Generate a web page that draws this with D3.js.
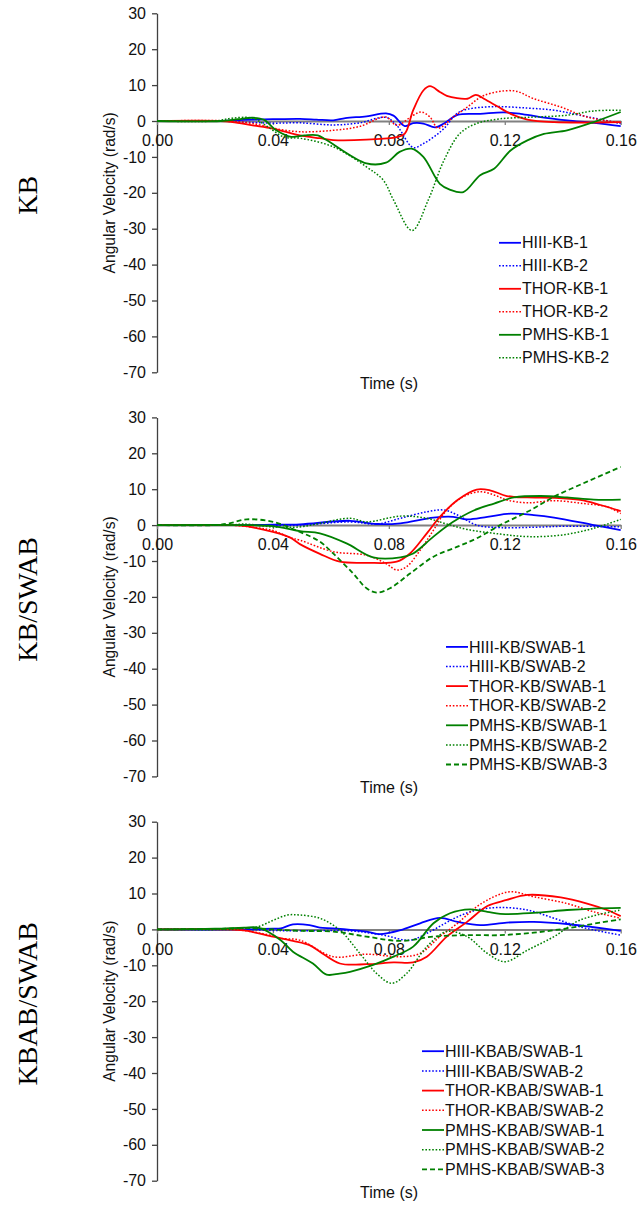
<!DOCTYPE html>
<meta charset="utf-8">
<script src="https://d3js.org/d3.v7.min.js"></script>
<style>
  body { margin: 0; background: #fff; }
</style>
<div id="chart"></div>
<script>

// ticks shared by all three panels
var timeTicks = [0, 0.04, 0.08, 0.12, 0.16];
var valueTicks = [-70, -60, -50, -40, -30, -20, -10, 0, 10, 20, 30];

// ---- KB panel: [time (s), angular velocity (rad/s)]
var hiiiKb1 = [[0,0],[0.02,0],[0.03,0.3],[0.04,0.5],[0.0493,0.6],[0.055,0.4],[0.0608,0.2],[0.065,0.8],[0.0723,1.3],[0.079,2.1],[0.0816,1.5],[0.0855,-1.4],[0.0884,-0.6],[0.0919,-0.7],[0.096,-1.8],[0.099,-0.7],[0.1037,1.7],[0.1115,2.0],[0.1196,2.4],[0.1254,2.0],[0.1323,1.1],[0.1415,0.2],[0.1507,-0.5],[0.16,-1.4]];
var hiiiKb2 = [[0,0],[0.02,0],[0.03,-0.3],[0.04,-0.6],[0.0493,-0.5],[0.0608,-1.1],[0.07,-0.5],[0.079,1.0],[0.0827,-1.2],[0.0884,-7.4],[0.0919,-6.3],[0.0954,-4.5],[0.099,-2.1],[0.1037,2.2],[0.1071,3.3],[0.1163,4.0],[0.1278,3.6],[0.137,3.0],[0.146,1.6],[0.16,-0.7]];
var thorKb1 = [[0,0],[0.022,0],[0.026,-0.3],[0.033,-1.2],[0.04,-2.1],[0.0493,-4.0],[0.0562,-4.8],[0.0608,-5.3],[0.0723,-5.2],[0.0827,-4.5],[0.0855,-3.5],[0.0884,3.0],[0.0919,8.5],[0.0942,9.7],[0.0976,8.1],[0.1,7.0],[0.1071,6.2],[0.11,7.3],[0.1128,6.2],[0.1174,4.1],[0.122,2.0],[0.1278,0.4],[0.137,-0.3],[0.16,-0.3]];
var thorKb2 = [[0,0],[0.025,0],[0.035,-1.0],[0.04,-2.0],[0.0493,-3.0],[0.0608,-2.6],[0.07,-1.5],[0.079,1.1],[0.0827,-1.2],[0.0884,1.6],[0.0913,2.5],[0.0942,1.1],[0.097,-2.0],[0.1022,1.1],[0.1071,3.9],[0.1128,7.1],[0.1232,8.4],[0.13,6.2],[0.1393,3.9],[0.1484,1.1],[0.16,-0.5]];
var pmhsKb1 = [[0,0],[0.022,0],[0.028,0.5],[0.033,0.9],[0.037,0.3],[0.041,-2.5],[0.0463,-4.4],[0.0509,-4.0],[0.0555,-4.0],[0.0585,-5.3],[0.0723,-11.8],[0.079,-11.6],[0.0837,-8.6],[0.0878,-7.7],[0.0919,-10.0],[0.0976,-17.5],[0.101,-19.1],[0.1057,-19.8],[0.1115,-15.1],[0.1163,-13.3],[0.122,-8.2],[0.1278,-5.4],[0.1335,-3.6],[0.1415,-2.6],[0.1507,-0.3],[0.16,2.5]];
var pmhsKb2 = [[0,0],[0.02,0],[0.026,0.8],[0.033,0.8],[0.038,-1.5],[0.044,-4.5],[0.0493,-4.8],[0.0608,-7.2],[0.0723,-12.8],[0.0781,-16.5],[0.0816,-22],[0.088,-30.5],[0.0936,-22],[0.099,-11],[0.1045,-3.5],[0.1103,-0.7],[0.1184,0.6],[0.13,1.1],[0.1415,1.6],[0.1507,2.8],[0.16,3.0]];

// ---- KB/SWAB panel
var hiiiKbSwab1 = [[0,0],[0.03,0],[0.04,0.1],[0.0493,0.2],[0.0666,1.2],[0.0758,0.3],[0.084,0.5],[0.0954,2.1],[0.1022,2.3],[0.107,1.6],[0.114,2.3],[0.122,3.2],[0.13,2.8],[0.137,2.1],[0.1507,0],[0.16,-1.4]];
var hiiiKbSwab2 = [[0,0],[0.03,0],[0.0493,0],[0.0666,0.9],[0.0758,0.3],[0.084,1.9],[0.0931,3.7],[0.099,4.2],[0.1037,2.8],[0.1103,0],[0.1184,-0.7],[0.13,-0.6],[0.1415,-0.3],[0.16,-0.5]];
var thorKbSwab1 = [[0,0],[0.025,0],[0.0286,-0.1],[0.04,-1.9],[0.046,-3.5],[0.0493,-5.3],[0.0562,-8.0],[0.0631,-10.2],[0.0723,-10.5],[0.0827,-10.2],[0.0873,-7.9],[0.0931,-2.3],[0.0976,2.3],[0.1037,7.0],[0.1103,9.9],[0.1149,9.7],[0.1207,8.1],[0.1278,7.7],[0.137,7.6],[0.146,7.0],[0.153,5.6],[0.16,3.9]];
var thorKbSwab2 = [[0,0],[0.025,0],[0.035,-0.8],[0.04,-1.5],[0.046,-3.5],[0.0493,-4.2],[0.0608,-7.4],[0.0723,-8.4],[0.079,-10.7],[0.0827,-12.5],[0.0861,-11.6],[0.0908,-7.0],[0.0954,-1.4],[0.1,4.2],[0.1057,7.9],[0.1115,9.3],[0.1163,8.4],[0.1207,7.0],[0.1278,6.2],[0.137,6.8],[0.1472,6.0],[0.1553,5.1],[0.16,3.2]];
var pmhsKbSwab1 = [[0,0],[0.03,0],[0.04,-0.3],[0.0493,-1.7],[0.0562,-2.3],[0.0654,-5.1],[0.0746,-9.0],[0.084,-9.0],[0.0884,-7.9],[0.0954,-3.2],[0.1022,0.9],[0.1091,4.0],[0.1163,6.0],[0.1232,7.7],[0.1323,8.1],[0.1415,7.7],[0.1507,7.1],[0.16,7.1]];
var pmhsKbSwab2 = [[0,0],[0.025,0],[0.03,0.3],[0.04,-0.5],[0.0493,-0.5],[0.0562,0.5],[0.0666,1.9],[0.0723,0.9],[0.084,2.5],[0.0931,1.9],[0.1,0.3],[0.107,-1.2],[0.1184,-2.5],[0.1278,-3.2],[0.1393,-2.8],[0.1507,-0.9],[0.16,1.6]];
var pmhsKbSwab3 = [[0,0],[0.02,0],[0.025,0.5],[0.031,1.6],[0.04,0.9],[0.0493,-1.9],[0.0562,-4.6],[0.0608,-7.9],[0.0677,-13.5],[0.0723,-17.6],[0.0758,-18.8],[0.0804,-17.6],[0.0873,-13.5],[0.0954,-8.8],[0.1037,-6.0],[0.1103,-3.7],[0.1184,0],[0.1278,3.7],[0.137,7.9],[0.1484,12.1],[0.16,16.2]];

// ---- KBAB/SWAB panel
var hiiiKbabSwab1 = [[0,0],[0.03,0],[0.04,0.2],[0.0427,0.3],[0.0469,1.4],[0.0526,1.2],[0.0562,0.5],[0.0608,0.3],[0.0723,-0.6],[0.0769,-1.3],[0.084,-0.2],[0.0908,1.7],[0.0976,3.2],[0.1037,2.1],[0.1115,1.2],[0.1207,1.9],[0.13,2.1],[0.1415,1.5],[0.1507,0.6],[0.16,-0.4]];
var hiiiKbabSwab2 = [[0,0],[0.03,0],[0.04,-0.3],[0.0493,-0.4],[0.0666,-0.4],[0.0781,-1.6],[0.0873,-3.0],[0.0931,-1.1],[0.099,1.5],[0.1037,3.5],[0.1103,5.4],[0.1184,6.1],[0.1278,5.4],[0.137,3.1],[0.146,0.7],[0.16,-1.6]];
var thorKbabSwab1 = [[0,0],[0.025,0],[0.03,-0.3],[0.04,-2.0],[0.0469,-3.2],[0.0526,-4.4],[0.0562,-6.2],[0.0631,-9.5],[0.0723,-9.7],[0.0816,-9.2],[0.0884,-9.2],[0.0931,-7.6],[0.1,-2.0],[0.107,2.1],[0.114,6.5],[0.1207,8.2],[0.1278,9.6],[0.1393,8.9],[0.1484,7.2],[0.1553,5.4],[0.16,3.7]];
var thorKbabSwab2 = [[0,0],[0.025,0],[0.03,-0.3],[0.04,-1.8],[0.0427,-2.5],[0.0493,-3.0],[0.0608,-7.6],[0.0723,-6.9],[0.084,-7.6],[0.0908,-6.7],[0.0976,-2.0],[0.1037,1.7],[0.1103,6.3],[0.1163,9.1],[0.122,10.5],[0.13,9.1],[0.1415,7.2],[0.1507,4.9],[0.16,3.1]];
var pmhsKbabSwab1 = [[0,0],[0.02,0.2],[0.03,0.5],[0.035,0.5],[0.038,-0.5],[0.0427,-3.0],[0.0469,-6.2],[0.0538,-9.5],[0.0585,-12.6],[0.063,-12.3],[0.0666,-11.8],[0.0746,-9.9],[0.0816,-7.6],[0.0884,-4.8],[0.0954,1.7],[0.1011,4.5],[0.108,5.6],[0.114,4.9],[0.1184,4.3],[0.13,4.6],[0.1415,5.4],[0.1507,5.8],[0.16,6.0]];
var pmhsKbabSwab2 = [[0,0],[0.025,0],[0.03,0.3],[0.035,0.8],[0.04,2.5],[0.045,4.0],[0.0493,4.0],[0.0562,3.1],[0.0631,-0.2],[0.07,-6.7],[0.0758,-12.3],[0.081,-15.0],[0.0861,-12.3],[0.0931,-4.8],[0.1,-0.6],[0.107,-2.0],[0.114,-6.7],[0.1201,-9.0],[0.1278,-5.8],[0.137,-2.0],[0.146,2.6],[0.16,5.4]];
var pmhsKbabSwab3 = [[0,0],[0.025,0.2],[0.03,0.4],[0.04,0],[0.0493,-0.4],[0.0608,-0.6],[0.0723,-2.0],[0.084,-3.2],[0.0954,-2.0],[0.107,-1.6],[0.1184,-1.6],[0.13,-0.9],[0.1415,0.3],[0.153,1.9],[0.16,2.8]];

var rowLabels = ["KB", "KB/SWAB", "KBAB/SWAB"];
var seriesNames = [
  ["HIII-KB-1", "HIII-KB-2", "THOR-KB-1", "THOR-KB-2", "PMHS-KB-1", "PMHS-KB-2"],
  ["HIII-KB/SWAB-1", "HIII-KB/SWAB-2", "THOR-KB/SWAB-1", "THOR-KB/SWAB-2", "PMHS-KB/SWAB-1", "PMHS-KB/SWAB-2", "PMHS-KB/SWAB-3"],
  ["HIII-KBAB/SWAB-1", "HIII-KBAB/SWAB-2", "THOR-KBAB/SWAB-1", "THOR-KBAB/SWAB-2", "PMHS-KBAB/SWAB-1", "PMHS-KBAB/SWAB-2", "PMHS-KBAB/SWAB-3"]
];
var seriesData = [
  [hiiiKb1, hiiiKb2, thorKb1, thorKb2, pmhsKb1, pmhsKb2],
  [hiiiKbSwab1, hiiiKbSwab2, thorKbSwab1, thorKbSwab2, pmhsKbSwab1, pmhsKbSwab2, pmhsKbSwab3],
  [hiiiKbabSwab1, hiiiKbabSwab2, thorKbabSwab1, thorKbabSwab2, pmhsKbabSwab1, pmhsKbabSwab2, pmhsKbabSwab3]
];

// colour by dummy type, dash by test number
var colorOf = { "HIII": "#0000ff", "THOR": "#ff0000", "PMHS": "#008000" };
var dashOf = { "1": null, "2": "1.6,1.8", "3": "5,3" };

var svg = d3.select("#chart")
  .append("svg")
    .attr("width", 639)
    .attr("height", 1206);

var x = d3.scaleLinear().domain([0, 0.16]).range([157, 620.7]);

var panelTop = [13.3, 417.4, 821.7];
var legendX = [499, 446, 422];
var legendStep = [23, 19.6, 19.7];

rowLabels.forEach(function(label, i) {
  var top = panelTop[i];
  var y = d3.scaleLinear().domain([-70, 30]).range([top + 359, top]);
  var g = svg.append("g");

  // y axis (plain hyphen for negatives, like the original)
  var ya = g.append("g")
    .attr("transform", "translate(157,0)")
    .call(d3.axisLeft(y).tickValues(valueTicks).tickFormat(function(d) { return String(d); })
      .tickSize(5).tickSizeOuter(0).tickPadding(6));
  ya.select(".domain").attr("stroke", "#404040").attr("stroke-width", 1.3);
  ya.selectAll(".tick line").attr("stroke", "#404040").attr("stroke-width", 1.3);
  ya.selectAll("text").attr("font-family", "'Liberation Sans', Arial, sans-serif")
    .attr("font-size", 16).attr("fill", "#111");

  // x axis sits on the zero line
  var xa = g.append("g")
    .attr("transform", "translate(0," + y(0) + ")")
    .call(d3.axisBottom(x).tickValues(timeTicks).tickFormat(d3.format(".2f"))
      .tickSize(4).tickSizeOuter(0).tickPadding(10));
  xa.select(".domain").attr("stroke", "#808080").attr("stroke-width", 2);
  xa.selectAll(".tick line").attr("stroke", "#808080").attr("stroke-width", 1.3);
  xa.selectAll("text").attr("font-family", "'Liberation Sans', Arial, sans-serif")
    .attr("font-size", 16).attr("fill", "#111");

  // curves
  var line = d3.line()
    .x(function(d) { return x(d[0]); })
    .y(function(d) { return y(d[1]); })
    .curve(d3.curveCatmullRom.alpha(0.5));

  seriesData[i].forEach(function(s, k) {
    var name = seriesNames[i][k];
    g.append("path")
      .datum(s)
      .attr("fill", "none")
      .attr("stroke", colorOf[name.slice(0, 4)])
      .attr("stroke-width", name.slice(-1) == "2" ? 1.5 : 1.8)
      .attr("stroke-dasharray", dashOf[name.slice(-1)])
      .attr("d", line);
  });

  // legend
  var lg = g.append("g");
  seriesNames[i].forEach(function(name, k) {
    var ly = top + 229.5 + k * legendStep[i];
    lg.append("line")
      .attr("x1", legendX[i]).attr("x2", legendX[i] + 22)
      .attr("y1", ly).attr("y2", ly)
      .attr("stroke", colorOf[name.slice(0, 4)])
      .attr("stroke-width", name.slice(-1) == "2" ? 1.5 : 1.8)
      .attr("stroke-dasharray", dashOf[name.slice(-1)]);
    lg.append("text")
      .attr("x", legendX[i] + 23).attr("y", ly).attr("dy", "0.35em")
      .attr("font-family", "'Liberation Sans', Arial, sans-serif")
      .attr("font-size", 16).attr("fill", "#111")
      .text(name);
  });

  // axis titles
  g.append("text")
    .attr("x", 389).attr("y", top + 359 + 17)
    .attr("text-anchor", "middle")
    .attr("font-family", "'Liberation Sans', Arial, sans-serif")
    .attr("font-size", 16).attr("fill", "#111")
    .text("Time (s)");

  g.append("text")
    .attr("transform", "translate(110," + (top + 179.5) + ") rotate(-90)")
    .attr("dy", "0.35em")
    .attr("text-anchor", "middle")
    .attr("font-family", "'Liberation Sans', Arial, sans-serif")
    .attr("font-size", 15.6).attr("fill", "#111")
    .text("Angular Velocity (rad/s)");

  // row label
  g.append("text")
    .attr("transform", "translate(27," + (top + 182) + ") rotate(-90)")
    .attr("dy", "0.35em")
    .attr("text-anchor", "middle")
    .attr("font-family", "'Liberation Serif', 'Times New Roman', serif")
    .attr("font-size", 28).attr("fill", "#000")
    .text(label);
});

</script>
